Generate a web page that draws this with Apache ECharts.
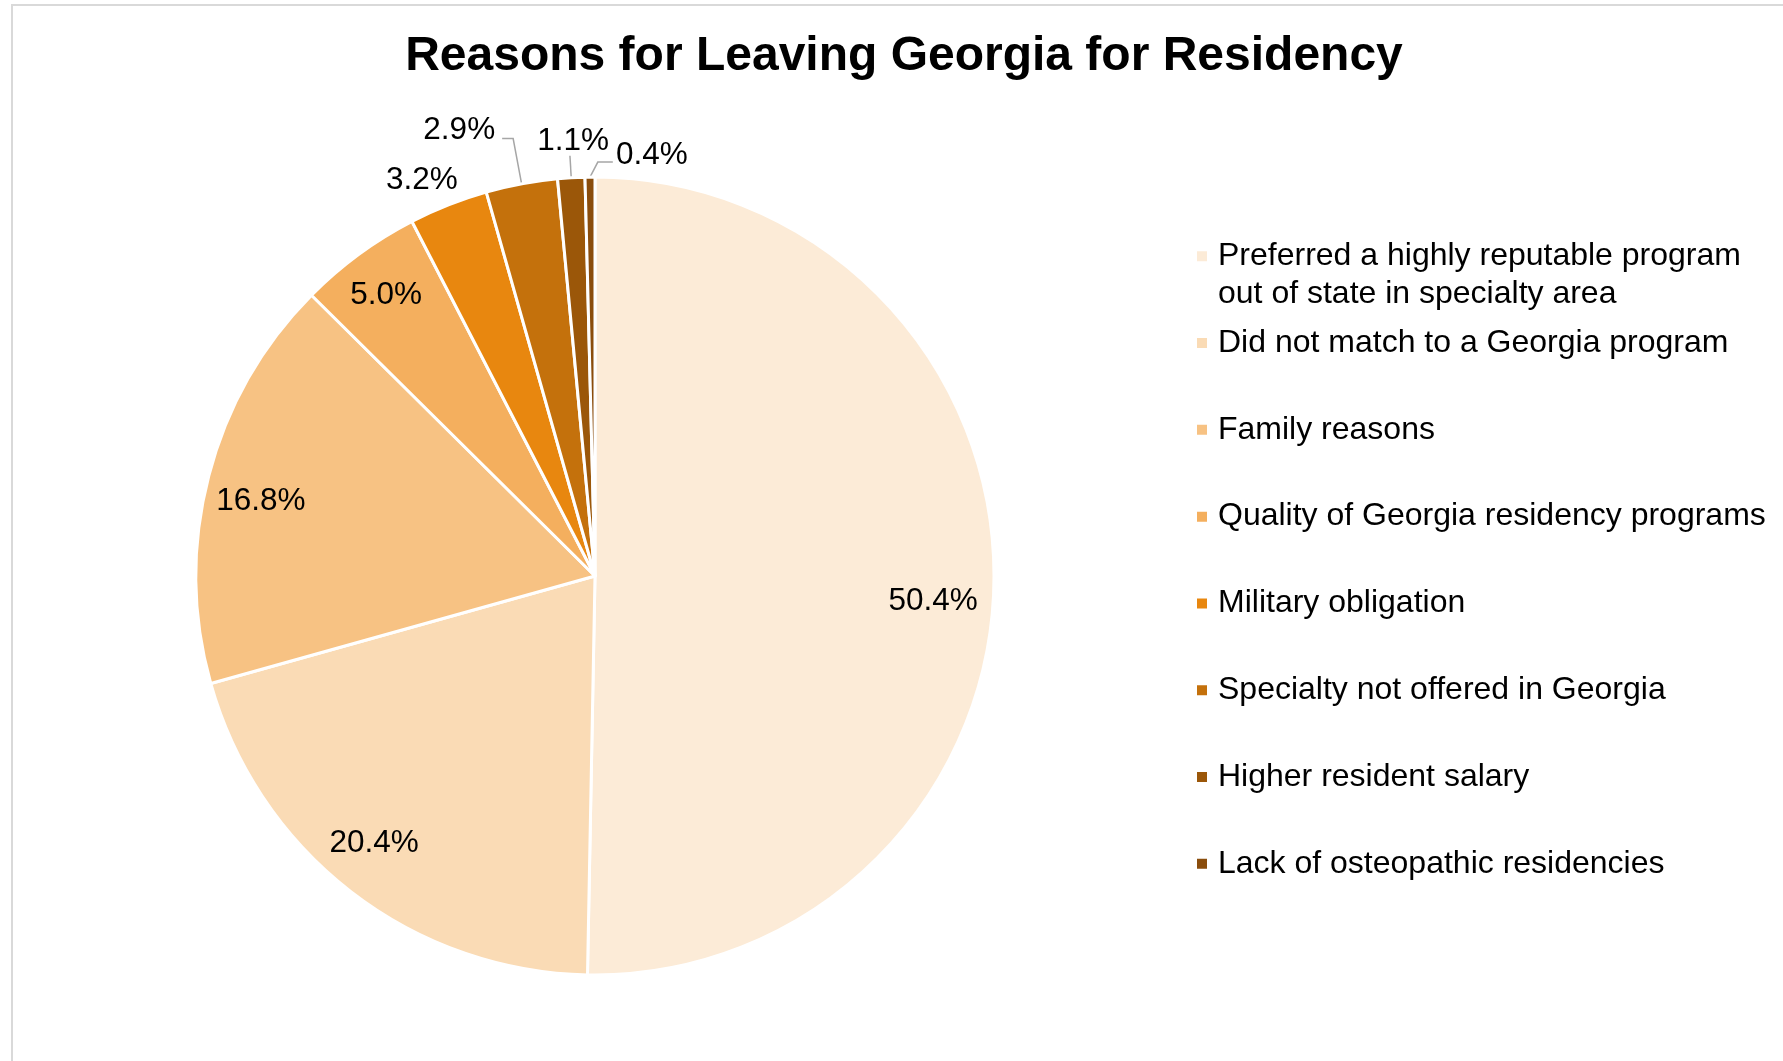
<!DOCTYPE html>
<html>
<head>
<meta charset="utf-8">
<title>Reasons for Leaving Georgia for Residency</title>
<script src="https://cdn.jsdelivr.net/npm/echarts@6/dist/echarts.min.js"></script>
<style>
  html, body { margin: 0; padding: 0; background: #ffffff; }
  #chart { width: 1783px; height: 1061px; }
</style>
</head>
<body>
<div id="chart"></div>
<script>
// Survey answers: why graduates left Georgia for residency (percent of respondents)
const reasons = [
  'Preferred a highly reputable program\nout of state in specialty area',
  'Did not match to a Georgia program',
  'Family reasons',
  'Quality of Georgia residency programs',
  'Military obligation',
  'Specialty not offered in Georgia',
  'Higher resident salary',
  'Lack of osteopathic residencies'
];
const shares = [50.4, 20.4, 16.8, 5.0, 3.2, 2.9, 1.1, 0.4];
const sliceColors = ['#FCEBD7', '#FADBB5', '#F7C283', '#F4AF5E', '#E8870F', '#C4710C', '#9B5709', '#8A4D0C'];

const FONT = '"Liberation Sans", Arial, sans-serif';
const CX = 595, CY = 576, R = 399;

// Slices wide enough to carry their label inside; the rest get outside labels with leader lines
const insideCount = 4;
// Label nudges for the inside labels
const innerNudge = { 0: [-8, 22], 1: [-9, -6], 2: [1, 12], 3: [-4, -2] };
// Leader-line lengths and label nudges for the small outer slices
const outerLine = {
  4: { show: false, length: 26, length2: 0 },
  5: { show: true, length: 46, length2: 11 },
  6: { show: true, length: 22, length2: 0 },
  7: { show: true, length: 14, length2: 14 }
};
const outerNudge = { 4: [24, 0], 5: [-2, -8], 6: [44, -14], 7: [117, -8] };
// The thinnest slice's leader bends to the right, towards its label
const bendRight = { 7: { kink: [8, -1], run: 15 } };

const LEGEND_LINE = 37.5;
const legendFirstRow = 259;
const legendStep = 86.8;

const chart = echarts.init(document.getElementById('chart'), null, { renderer: 'canvas' });

const mainData = reasons.map((name, i) => {
  const item = { name, value: shares[i], itemStyle: { color: sliceColors[i] } };
  if (i < insideCount) {
    item.label = { show: false };
    item.labelLine = { show: false };
  } else {
    const ol = outerLine[i];
    item.label = { show: true, position: 'outside' };
    item.labelLine = { show: ol.show, length: ol.length, length2: ol.length2 };
  }
  return item;
});

// Transparent ring used only to place the inside labels near the rim
const ringData = reasons.map((name, i) => ({
  name,
  value: shares[i],
  itemStyle: { color: 'rgba(0,0,0,0)', borderWidth: 0 },
  label: { show: i < insideCount }
}));

// One legend block per entry so every marker sits on the first line of its text
const legends = reasons.map((name, i) => {
  const lines = name.split('\n').map(s => '{t|' + s + '}');
  // a blank lead line keeps the marker level with the first of two lines
  if (lines.length > 1) lines.unshift('{t| }');
  const halfHeight = lines.length * LEGEND_LINE / 2;
  return {
    data: [name],
    orient: 'vertical',
    left: 1195,
    top: legendFirstRow + i * legendStep - halfHeight,
    itemWidth: 12,
    itemHeight: 12,
    itemGap: 0,
    icon: 'rect',
    selectedMode: false,
    padding: 0,
    formatter: () => lines.join('\n'),
    textStyle: {
      rich: {
        t: {
          fontFamily: FONT,
          fontSize: 32,
          color: '#000000',
          lineHeight: LEGEND_LINE,
          padding: [0, 0, 0, 5]
        }
      }
    }
  };
});

const pctLabel = p => p.value.toFixed(1) + '%';

chart.setOption({
  backgroundColor: '#ffffff',
  animation: false,
  title: {
    text: 'Reasons for Leaving Georgia for Residency',
    left: 899,
    top: 52,
    textAlign: 'center',
    textVerticalAlign: 'middle',
    textStyle: { fontFamily: FONT, fontSize: 48, fontWeight: 'bold', color: '#000000' }
  },
  legend: legends,
  graphic: [{
    type: 'rect',
    silent: true,
    shape: { x: 12, y: 5, width: 1900, height: 1200 },
    style: { fill: 'none', stroke: '#D9D9D9', lineWidth: 2 }
  }],
  series: [
    {
      type: 'pie',
      center: [CX, CY],
      radius: [0, R],
      startAngle: 90,
      clockwise: true,
      avoidLabelOverlap: false,
      itemStyle: { borderColor: '#ffffff', borderWidth: 3 },
      emphasis: { disabled: true },
      label: {
        fontFamily: FONT,
        fontSize: 31.5,
        color: '#000000',
        formatter: pctLabel
      },
      labelLine: { lineStyle: { color: '#A6A6A6', width: 1.5 }, smooth: false },
      labelLayout: p => {
        const n = outerNudge[p.dataIndex];
        if (!n) return {};
        const out = { dx: n[0], dy: n[1] };
        const b = bendRight[p.dataIndex];
        if (b && p.labelLinePoints) {
          const [p0, p1] = p.labelLinePoints;
          const k = [p1[0] + b.kink[0], p1[1] + b.kink[1]];
          out.labelLinePoints = [[p0[0], p0[1]], k, [k[0] + b.run, k[1]]];
        }
        return out;
      },
      data: mainData
    },
    {
      type: 'pie',
      center: [CX, CY],
      radius: [R * 0.72, R],
      startAngle: 90,
      clockwise: true,
      silent: true,
      avoidLabelOverlap: false,
      emphasis: { disabled: true },
      label: {
        position: 'inside',
        fontFamily: FONT,
        fontSize: 31.5,
        color: '#000000',
        formatter: pctLabel
      },
      labelLine: { show: false },
      labelLayout: p => {
        const n = innerNudge[p.dataIndex];
        return n ? { dx: n[0], dy: n[1] } : {};
      },
      data: ringData
    }
  ]
});
</script>
</body>
</html>
